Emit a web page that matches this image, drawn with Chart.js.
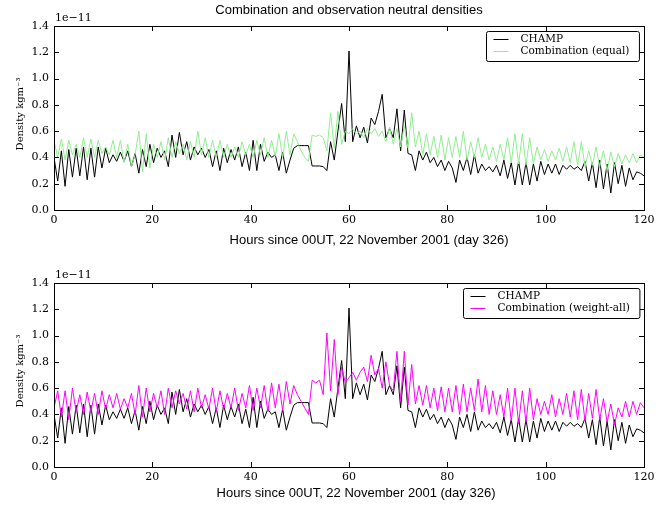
<!DOCTYPE html>
<html>
<head>
<meta charset="utf-8">
<script src="https://cdn.jsdelivr.net/npm/chart.js@4"></script>
<style>
  html, body { margin: 0; padding: 0; background: #fff; }
  .panel { position: absolute; left: 0; width: 665px; height: 253px; }
  #p1 { top: 0; }
  #p2 { top: 253px; }
</style>
</head>
<body>
<div class="panel" id="p1"><canvas id="c1"></canvas></div>
<div class="panel" id="p2"><canvas id="c2"></canvas></div>
<script>
// sample spacing in hours (two samples per orbit)
const STEP = 0.75;
const xTicks = [0, 20, 40, 60, 80, 100, 120];
const yTicks = [0.0, 0.2, 0.4, 0.6, 0.8, 1.0, 1.2, 1.4];

// densities in units of 1e-11 kg m^-3
const champ = [
  0.40, 0.22, 0.45, 0.18, 0.46, 0.25, 0.47, 0.26,
  0.48, 0.23, 0.47, 0.25, 0.48, 0.32, 0.47, 0.36,
  0.42, 0.37, 0.44, 0.37, 0.45, 0.33, 0.43, 0.28,
  0.46, 0.33, 0.50, 0.36, 0.47, 0.40, 0.45, 0.33,
  0.57, 0.40, 0.59, 0.42, 0.52, 0.38, 0.48, 0.42,
  0.47, 0.40, 0.46, 0.33, 0.45, 0.30, 0.47, 0.36,
  0.46, 0.38, 0.48, 0.33, 0.44, 0.30, 0.53, 0.30,
  0.50, 0.37, 0.44, 0.40, 0.42, 0.30, 0.44, 0.28,
  0.38, 0.47, 0.49, 0.49, 0.49, 0.49, 0.335, 0.335,
  0.335, 0.33, 0.30, 0.52, 0.38, 0.60, 0.81, 0.52,
  1.21, 0.52, 0.64, 0.55, 0.63, 0.51, 0.70, 0.65,
  0.75, 0.88, 0.55, 0.62, 0.55, 0.77, 0.45, 0.76,
  0.43, 0.42, 0.30, 0.45, 0.38, 0.44, 0.36, 0.40,
  0.33, 0.38, 0.30, 0.37, 0.32, 0.21, 0.38, 0.30,
  0.40, 0.27, 0.42, 0.28, 0.35, 0.30, 0.33, 0.29,
  0.34, 0.26, 0.38, 0.24, 0.36, 0.19, 0.37, 0.19,
  0.36, 0.19, 0.35, 0.22, 0.37, 0.27, 0.35, 0.28,
  0.35, 0.27, 0.34, 0.31, 0.34, 0.31, 0.33, 0.30,
  0.37, 0.22, 0.36, 0.17, 0.38, 0.16, 0.35, 0.13,
  0.36, 0.20, 0.34, 0.18, 0.32, 0.23, 0.29, 0.28,
  0.26
];

const combEqual = [
  0.53, 0.40, 0.54, 0.38, 0.53, 0.42, 0.50, 0.40,
  0.55, 0.40, 0.54, 0.40, 0.53, 0.43, 0.48, 0.42,
  0.53, 0.40, 0.53, 0.36, 0.50, 0.33, 0.42, 0.60,
  0.29, 0.58, 0.32, 0.50, 0.40, 0.52, 0.38, 0.55,
  0.40, 0.52, 0.43, 0.50, 0.38, 0.52, 0.40, 0.60,
  0.42, 0.55, 0.40, 0.53, 0.40, 0.53, 0.40, 0.50,
  0.40, 0.48, 0.40, 0.52, 0.42, 0.50, 0.40, 0.53,
  0.42, 0.55, 0.40, 0.53, 0.41, 0.58, 0.40, 0.60,
  0.42, 0.58, 0.52, 0.45, 0.40, 0.37, 0.57, 0.56,
  0.57, 0.55, 0.45, 0.74, 0.47, 0.75, 0.50, 0.60,
  0.58, 0.62, 0.58, 0.60, 0.55, 0.62, 0.58, 0.62,
  0.56, 0.60, 0.52, 0.63, 0.50, 0.62, 0.48, 0.64,
  0.47, 0.74, 0.48, 0.60, 0.42, 0.58, 0.42, 0.56,
  0.40, 0.57, 0.38, 0.55, 0.40, 0.56, 0.40, 0.60,
  0.38, 0.52, 0.40, 0.55, 0.40, 0.50, 0.38, 0.48,
  0.37, 0.50, 0.38, 0.55, 0.36, 0.58, 0.35, 0.58,
  0.34, 0.55, 0.35, 0.48, 0.38, 0.46, 0.37, 0.45,
  0.38, 0.47, 0.37, 0.48, 0.36, 0.52, 0.34, 0.52,
  0.33, 0.45, 0.34, 0.48, 0.33, 0.45, 0.30, 0.44,
  0.33, 0.43, 0.35, 0.42, 0.36, 0.43, 0.36, 0.42,
  0.40
];

const combWeightAll = [
  0.45, 0.58, 0.38, 0.58, 0.36, 0.60, 0.42, 0.55,
  0.40, 0.57, 0.42, 0.56, 0.40, 0.58, 0.44, 0.55,
  0.45, 0.56, 0.44, 0.52, 0.45, 0.56, 0.40, 0.62,
  0.38, 0.60, 0.42, 0.56, 0.45, 0.58, 0.40, 0.60,
  0.45, 0.58, 0.48, 0.56, 0.44, 0.58, 0.42, 0.60,
  0.45, 0.55, 0.44, 0.60, 0.42, 0.58, 0.44, 0.56,
  0.45, 0.60, 0.43, 0.56, 0.45, 0.62, 0.43, 0.60,
  0.45, 0.62, 0.42, 0.64, 0.45, 0.63, 0.43, 0.65,
  0.48, 0.62, 0.55, 0.50, 0.45, 0.40, 0.66, 0.64,
  0.66, 0.55, 1.02, 0.58, 0.97, 0.55, 0.76, 0.64,
  0.68, 0.72, 0.66, 0.72, 0.76, 0.65, 0.85, 0.70,
  0.75, 0.60, 0.80, 0.62, 0.58, 0.88, 0.50, 0.88,
  0.47, 0.78, 0.48, 0.62, 0.47, 0.62, 0.45, 0.60,
  0.43, 0.61, 0.42, 0.60, 0.42, 0.62, 0.40, 0.63,
  0.42, 0.60, 0.43, 0.67, 0.42, 0.62, 0.40, 0.58,
  0.40, 0.55, 0.38, 0.60, 0.35, 0.60, 0.33, 0.58,
  0.34, 0.60, 0.36, 0.52, 0.40, 0.50, 0.40, 0.55,
  0.38, 0.52, 0.40, 0.56, 0.38, 0.58, 0.36, 0.59,
  0.35, 0.56, 0.37, 0.59, 0.36, 0.52, 0.34, 0.48,
  0.32, 0.45, 0.38, 0.50, 0.38, 0.50, 0.40, 0.49,
  0.45
];

const hours = champ.map((_, i) => i * STEP);
const pts = arr => arr.map((v, i) => ({ x: hours[i], y: v }));

const SERIF = '"DejaVu Serif", serif';
const SANS = '"Liberation Sans", Arial, sans-serif';
const XLABEL = 'Hours since 00UT, 22 November 2001 (day 326)';

// frame, inward ticks on all sides, and the text matplotlib would put around the axes
const decor = {
  id: 'decor',
  afterDatasetsDraw(chart, args, o) {
    const { ctx, chartArea: a, scales: { x, y } } = chart;
    ctx.save();
    ctx.strokeStyle = '#000';
    ctx.lineWidth = 1;
    ctx.beginPath();
    x.ticks.forEach(t => {
      const px = Math.round(x.getPixelForValue(t.value)) + 0.5;
      ctx.moveTo(px, a.bottom); ctx.lineTo(px, a.bottom - 5);
      ctx.moveTo(px, a.top); ctx.lineTo(px, a.top + 5);
    });
    y.ticks.forEach(t => {
      const py = Math.round(y.getPixelForValue(t.value)) + 0.5;
      ctx.moveTo(a.left, py); ctx.lineTo(a.left + 5, py);
      ctx.moveTo(a.right, py); ctx.lineTo(a.right - 5, py);
    });
    ctx.stroke();
    ctx.strokeRect(Math.round(a.left) + 0.5, Math.round(a.top) + 0.5,
                   Math.round(a.right - a.left), Math.round(a.bottom - a.top));

    ctx.fillStyle = '#000';
    const cx = (a.left + a.right) / 2;
    if (o.title) {
      ctx.font = '13px ' + SANS;
      ctx.textAlign = 'center'; ctx.textBaseline = 'middle';
      ctx.fillText(o.title, cx, a.top - 16);
    }
    ctx.font = '13px ' + SANS;
    ctx.textAlign = 'center'; ctx.textBaseline = 'middle';
    ctx.fillText(XLABEL, cx + o.xlabelDx, a.bottom + o.xlabelDy);

    ctx.font = '11px ' + SERIF;
    ctx.textAlign = 'left'; ctx.textBaseline = 'middle';
    ctx.fillText('1e\u221211', a.left + 1, a.top - 8);

    ctx.save();
    ctx.translate(20, (a.top + a.bottom) / 2 - 4);
    ctx.rotate(-Math.PI / 2);
    ctx.font = '10px ' + SERIF;
    ctx.textAlign = 'center'; ctx.textBaseline = 'middle';
    ctx.fillText('Density kgm\u207B\u00B3', 0, 0);
    ctx.restore();

    // legend box
    const ds = chart.data.datasets;
    ctx.font = '10.5px ' + SERIF;
    const tw = Math.max(...ds.map(d => ctx.measureText(d.label).width));
    const bw = 34 + tw + 10, bh = 30;
    const bx = Math.round(a.right - 5 - bw) + 0.5, by = Math.round(a.top + 5) + 0.5;
    ctx.fillStyle = '#fff';
    ctx.strokeStyle = '#000';
    ctx.beginPath();
    ctx.roundRect(bx, by, bw, bh, 2);
    ctx.fill(); ctx.stroke();
    ds.forEach((d, i) => {
      const ly = by + 8 + i * 12;
      ctx.strokeStyle = d.borderColor;
      ctx.beginPath(); ctx.moveTo(bx + 7, ly); ctx.lineTo(bx + 22, ly); ctx.stroke();
      ctx.fillStyle = '#000';
      ctx.textAlign = 'left'; ctx.textBaseline = 'middle';
      ctx.fillText(d.label, bx + 34, ly);
    });
    ctx.restore();
  }
};

function makeChart(id, combo, comboLabel, comboColor, top, title, xlabelDx, xlabelDy) {
  const H = 253, bottom = top + 184;
  return new Chart(document.getElementById(id), {
    type: 'line',
    data: {
      datasets: [
        { label: 'CHAMP', data: pts(champ), borderColor: '#000000', borderWidth: 1,
          pointRadius: 0, tension: 0, order: 1 },
        { label: comboLabel, data: pts(combo), borderColor: comboColor, borderWidth: 1,
          pointRadius: 0, tension: 0, order: 0 }
      ]
    },
    options: {
      responsive: true,
      maintainAspectRatio: false,
      animation: false,
      layout: { padding: { left: 0, right: 21, top: top, bottom: 0 } },
      plugins: {
        legend: { display: false },
        tooltip: { enabled: false },
        decor: { title: title, xlabelDx: xlabelDx, xlabelDy: xlabelDy }
      },
      scales: {
        x: {
          type: 'linear', min: 0, max: 120,
          afterBuildTicks: s => { s.ticks = xTicks.map(v => ({ value: v })); },
          afterFit: s => { s.height = H - bottom; },
          ticks: { color: '#000', font: { family: SERIF, size: 11 }, padding: 4,
                   maxRotation: 0, callback: v => String(v) },
          grid: { display: false, drawTicks: false },
          border: { display: false }
        },
        y: {
          min: 0, max: 1.4,
          afterBuildTicks: s => { s.ticks = yTicks.map(v => ({ value: v })); },
          afterFit: s => { s.width = 54; },
          ticks: { color: '#000', font: { family: SERIF, size: 11 }, padding: 5,
                   callback: v => v.toFixed(1) },
          grid: { display: false, drawTicks: false },
          border: { display: false }
        }
      }
    },
    plugins: [decor]
  });
}

makeChart('c1', combEqual, 'Combination (equal)', '#90ee90', 26,
          'Combination and observation neutral densities', 20, 30);
makeChart('c2', combWeightAll, 'Combination (weight-all)', '#ff00ff', 30, null, 7, 26);
</script>
</body>
</html>
